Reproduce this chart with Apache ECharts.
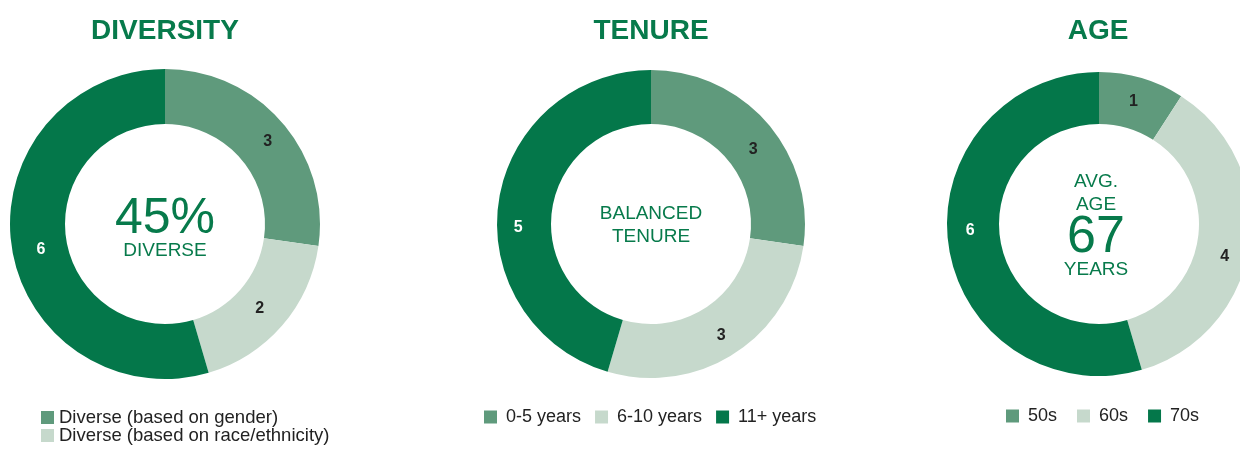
<!DOCTYPE html>
<html>
<head>
<meta charset="utf-8">
<script src="https://cdn.jsdelivr.net/npm/echarts@6/dist/echarts.min.js"></script>
<style>
  html, body { margin: 0; padding: 0; background: #fff; }
  #chart { width: 1240px; height: 449px; }
</style>
</head>
<body>
<div id="chart"></div>
<script>
// board composition data
const diversityNames = ['Diverse (based on gender)', 'Diverse (based on race/ethnicity)', 'Not diverse']
const diversityValues = [3, 2, 6]
const tenureNames = ['0-5 years', '6-10 years', '11+ years']
const tenureValues = [3, 3, 5]
const ageNames = ['50s', '60s', '70s']
const ageValues = [1, 4, 6]

const colors = ['#5f9a7c', '#c6d9cc', '#04774a']
const labelColors = ['#222222', '#222222', '#ffffff']
const green = '#077a4b'
const font = '"Liberation Sans", Arial, sans-serif'

// small nudges so the value labels sit where the original ones do
const nudge = {
  Diversity: [[4, 3], [-4, -1], [5, 7]],
  Tenure: [[4, 11], [0, 2], [-4, 22]],
  Age: [[-2, 1], [-2, 14], [-1, -12]]
}

function toData(names, values) {
  return values.map((v, i) => ({
    name: names[i],
    value: v,
    itemStyle: { color: colors[i] },
    label: { color: labelColors[i] }
  }))
}

function ring(name, names, values, center, outer) {
  return {
    name,
    type: 'pie',
    center,
    radius: [100, outer],
    startAngle: 90,
    clockwise: true,
    avoidLabelOverlap: false,
    silent: true,
    label: {
      show: true,
      position: 'inside',
      formatter: '{c}',
      fontFamily: font,
      fontWeight: 'bold',
      fontSize: 16
    },
    labelLine: { show: false },
    labelLayout: (p) => ({ dx: nudge[name][p.dataIndex][0], dy: nudge[name][p.dataIndex][1] }),
    data: toData(names, values)
  }
}

function txt(text, x, y, size, weight) {
  return {
    type: 'text',
    x, y,
    style: {
      text,
      fill: green,
      font: (weight || 'normal') + ' ' + size + 'px ' + font,
      align: 'center',
      verticalAlign: 'middle',
      textAlign: 'center',
      textVerticalAlign: 'middle'
    }
  }
}

function legend(names, left, top, gap, textPad, size) {
  return {
    data: names,
    orient: 'horizontal',
    left, top,
    padding: 0,
    icon: 'rect', itemWidth: 13, itemHeight: 13, itemGap: gap,
    textStyle: { color: '#222222', fontSize: size || 18, fontFamily: font, padding: [0, 0, 0, textPad] },
    selectedMode: false
  }
}

const chart = echarts.init(document.getElementById('chart'), null, { renderer: 'canvas' })
chart.setOption({
  animation: false,
  backgroundColor: '#ffffff',
  legend: [
    legend([diversityNames[0]], 41, 408, 10, 0, 18.5),
    legend([diversityNames[1]], 41, 426, 10, 0, 18.5),
    legend(tenureNames, 484, 408, 14, 4),
    legend(ageNames, 1006, 407, 20, 4)
  ],
  graphic: [
    txt('DIVERSITY', 165, 31, 28, 'bold'),
    txt('TENURE', 651, 31, 28, 'bold'),
    txt('AGE', 1098, 31, 28, 'bold'),
    txt('45%', 165, 219, 50),
    txt('DIVERSE', 165, 251, 19),
    txt('BALANCED', 651, 214, 19),
    txt('TENURE', 651, 237, 19),
    txt('AVG.', 1096, 182, 19),
    txt('AGE', 1096, 205, 19),
    txt('67', 1096, 238, 52),
    txt('YEARS', 1096, 270, 19)
  ],
  series: [
    ring('Diversity', diversityNames, diversityValues, [165, 224], 155),
    ring('Tenure', tenureNames, tenureValues, [651, 224], 154),
    ring('Age', ageNames, ageValues, [1099, 224], 152)
  ]
})
</script>
</body>
</html>
